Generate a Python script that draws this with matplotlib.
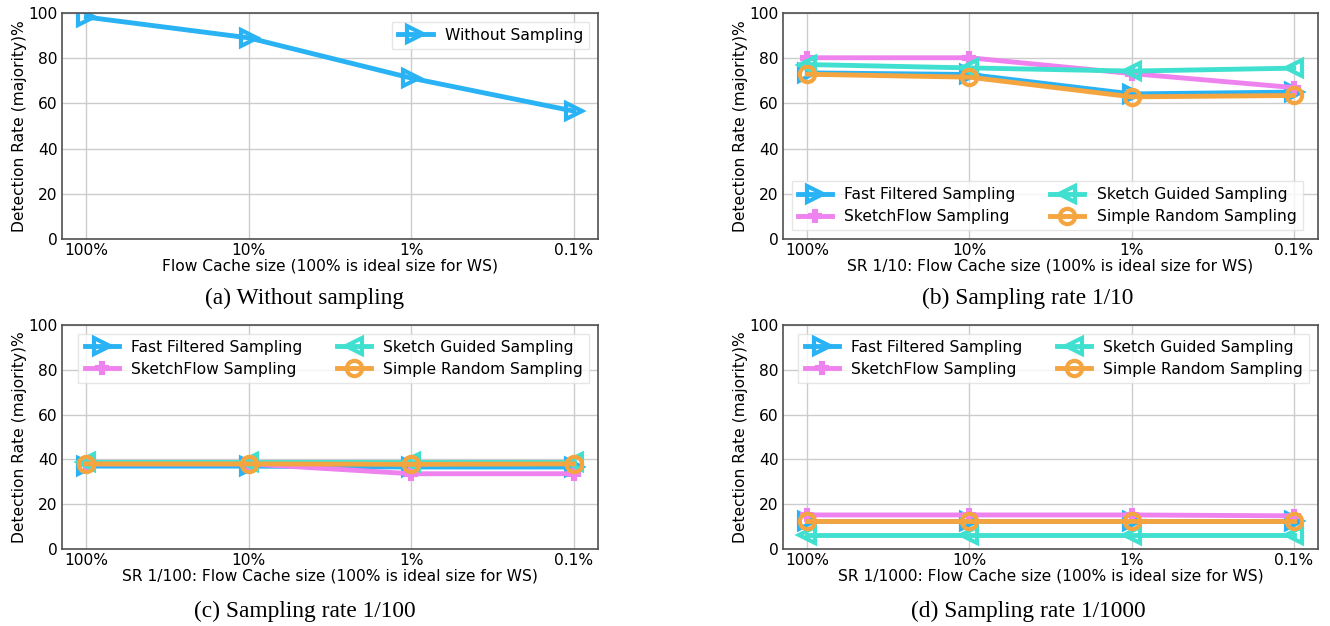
import matplotlib
matplotlib.use("Agg")
import matplotlib.pyplot as plt

# ---- data ----
cache_sizes = ["100%", "10%", "1%", "0.1%"]
yticks = [0, 20, 40, 60, 80, 100]

without_sampling = [98.2, 89.0, 71.2, 56.6]

series_names = ["Fast Filtered Sampling", "SketchFlow Sampling",
                "Sketch Guided Sampling", "Simple Random Sampling"]

# Sampling rate 1/10
sr10_fast = [73.5, 72.8, 64.2, 65.0]
sr10_sketchflow = [80.2, 80.2, 73.2, 67.0]
sr10_guided = [77.2, 75.7, 74.3, 75.6]
sr10_random = [72.9, 71.6, 62.9, 63.5]

# Sampling rate 1/100
sr100_fast = [37.0, 37.0, 36.6, 36.6]
sr100_sketchflow = [38.0, 38.0, 33.6, 33.6]
sr100_guided = [39.0, 39.0, 39.0, 39.0]
sr100_random = [38.0, 38.0, 37.8, 38.0]

# Sampling rate 1/1000
sr1000_fast = [12.4, 12.4, 12.4, 12.4]
sr1000_sketchflow = [15.2, 15.2, 15.2, 14.8]
sr1000_guided = [6.4, 6.4, 6.4, 6.4]
sr1000_random = [12.6, 12.6, 12.6, 12.6]

captions = ["(a) Without sampling", "(b) Sampling rate 1/10",
            "(c) Sampling rate 1/100", "(d) Sampling rate 1/1000"]
xlabels = ["Flow Cache size (100% is ideal size for WS)",
           "SR 1/10: Flow Cache size (100% is ideal size for WS)",
           "SR 1/100: Flow Cache size (100% is ideal size for WS)",
           "SR 1/1000: Flow Cache size (100% is ideal size for WS)"]
ylabel = "Detection Rate (majority)%"

# ---- styles ----
colors = ["#2ab3f4", "#ee82ee", "#40e0d0", "#f5a540"]
markers = [">", "P", "<", "o"]

W, H = 1330, 626
fig = plt.figure(figsize=(W / 100, H / 100), dpi=100)
fs = 11.2


def px_axes(left, top, right, bottom):
    return fig.add_axes([left / W, 1 - bottom / H, (right - left) / W, (bottom - top) / H])


def style(ax, xlabel):
    ax.set_ylim(0, 100)
    ax.set_yticks(yticks)
    ax.set_xticks(range(len(cache_sizes)))
    ax.set_xticklabels(cache_sizes, fontsize=fs)
    ax.tick_params(axis="y", labelsize=fs)
    ax.tick_params(length=0, pad=3)
    ax.grid(True, color="#cccccc", linewidth=1.0)
    ax.set_axisbelow(True)
    for sp in ax.spines.values():
        sp.set_color("#505050")
        sp.set_linewidth(1.2)
    ax.set_xlabel(xlabel, fontsize=fs, labelpad=0)
    ax.set_ylabel(ylabel, fontsize=fs, labelpad=1)


def plot_series(ax, data_list):
    x = range(len(cache_sizes))
    for name, data, c, m in zip(series_names, data_list, colors, markers):
        if m == "P":
            ax.plot(x, data, color=c, lw=3.5, marker=m, markersize=9,
                    markerfacecolor=c, markeredgewidth=1.5, label=name)
        else:
            ax.plot(x, data, color=c, lw=3.5, marker=m, markersize=11,
                    markerfacecolor="none", markeredgewidth=3, label=name)


def add_legend(ax, loc, ncol):
    ax.legend(loc=loc, ncol=ncol, fontsize=fs, fancybox=False,
              edgecolor="#e0e0e0", handlelength=2.2, labelspacing=0.45,
              columnspacing=2.2, borderpad=0.4, borderaxespad=0.55)


boxes = [(62, 13, 598, 239), (783, 13, 1318, 239),
         (62, 325, 598, 549), (783, 325, 1318, 549)]
axes = [px_axes(*b) for b in boxes]

# (a)
ax = axes[0]
ax.plot(range(len(cache_sizes)), without_sampling, color=colors[0], lw=3.5,
        marker=">", markersize=11, markerfacecolor="none", markeredgewidth=3,
        label="Without Sampling")
style(ax, xlabels[0])
add_legend(ax, "upper right", 1)

# (b)
plot_series(axes[1], [sr10_fast, sr10_sketchflow, sr10_guided, sr10_random])
style(axes[1], xlabels[1])
add_legend(axes[1], "lower left", 2)

# (c)
plot_series(axes[2], [sr100_fast, sr100_sketchflow, sr100_guided, sr100_random])
style(axes[2], xlabels[2])
add_legend(axes[2], "upper right", 2)

# (d)
plot_series(axes[3], [sr1000_fast, sr1000_sketchflow, sr1000_guided, sr1000_random])
style(axes[3], xlabels[3])
add_legend(axes[3], "upper right", 2)

# captions
cap_pos = [(305, 298), (1028, 298), (305, 611), (1028, 611)]
for (cx, cy), cap in zip(cap_pos, captions):
    fig.text(cx / W, 1 - cy / H, cap, ha="center", va="center",
             family="Liberation Serif", fontsize=16.8)

fig.savefig("out.png", dpi=100, facecolor="white")
